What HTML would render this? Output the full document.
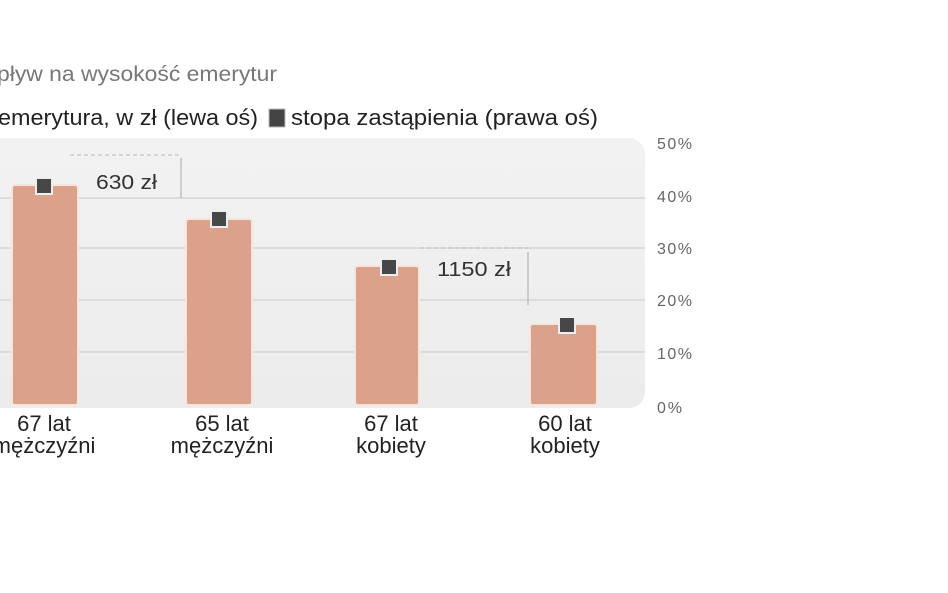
<!DOCTYPE html>
<html><head><meta charset="utf-8"><style>
body{margin:0;width:948px;height:593px;background:#fff;overflow:hidden;position:relative;font-family:"Liberation Sans",sans-serif}
</style></head><body>
<svg width="948" height="593" style="position:absolute;left:0;top:0" font-family="Liberation Sans">
<defs><linearGradient id="g" x1="0" y1="0" x2="0" y2="1"><stop offset="0" stop-color="#f2f2f2"/><stop offset="1" stop-color="#ececec"/></linearGradient></defs>
<text x="-3" y="81" font-size="21" fill="#777" textLength="280" lengthAdjust="spacingAndGlyphs">pływ na wysokość emerytur</text>
<text x="-2" y="125" font-size="22" fill="#222" textLength="260" lengthAdjust="spacingAndGlyphs">emerytura, w zł (lewa oś)</text>
<rect x="269" y="109" width="16" height="18" fill="#444" stroke="#bbb"/>
<text x="291" y="125" font-size="22" fill="#222" textLength="307" lengthAdjust="spacingAndGlyphs">stopa zastąpienia (prawa oś)</text>
<rect x="-20" y="138" width="665" height="270" rx="16" fill="url(#g)"/>
<g stroke="#d6d6d6" stroke-width="1.5">
<line x1="0" y1="198" x2="645" y2="198"/><line x1="0" y1="248" x2="645" y2="248"/><line x1="0" y1="300" x2="645" y2="300"/><line x1="0" y1="352" x2="645" y2="352"/>
</g>
<g stroke="#bbb" stroke-dasharray="4,3"><line x1="70" y1="155" x2="180" y2="155"/><line x1="420" y1="248" x2="528" y2="248"/></g>
<g stroke="#aaa"><line x1="181" y1="158" x2="181" y2="198"/><line x1="528" y1="252" x2="528" y2="305"/></g>
<g fill="#dca18a" stroke="#f7e4dc" stroke-width="2">
<rect x="12" y="185" width="66" height="220" rx="3"/>
<rect x="186" y="219" width="66" height="186" rx="3"/>
<rect x="355" y="266" width="64" height="139" rx="3"/>
<rect x="530" y="324" width="67" height="81" rx="3"/>
</g>
<g fill="#474747" stroke="#eee" stroke-width="2">
<rect x="36" y="178" width="16" height="16"/>
<rect x="211" y="211" width="16" height="16"/>
<rect x="381" y="259" width="16" height="16"/>
<rect x="559" y="317" width="16" height="16"/>
</g>
<g font-size="20" fill="#333">
<text x="96" y="189" textLength="61" lengthAdjust="spacingAndGlyphs">630 zł</text><text x="437" y="276" textLength="74" lengthAdjust="spacingAndGlyphs">1150 zł</text>
</g>
<g font-size="16" fill="#666">
<text x="657" y="149" textLength="35">50%</text><text x="657" y="202" textLength="35">40%</text><text x="657" y="254" textLength="35">30%</text><text x="657" y="306" textLength="35">20%</text><text x="657" y="359" textLength="35">10%</text><text x="657" y="413" textLength="25">0%</text>
</g>
<g font-size="22" fill="#222" text-anchor="middle">
<text x="44" y="431">67 lat</text><text x="44" y="453">mężczyźni</text>
<text x="222" y="431">65 lat</text><text x="222" y="453">mężczyźni</text>
<text x="391" y="431">67 lat</text><text x="391" y="453">kobiety</text>
<text x="565" y="431">60 lat</text><text x="565" y="453">kobiety</text>
</g>
</svg>
</body></html>
